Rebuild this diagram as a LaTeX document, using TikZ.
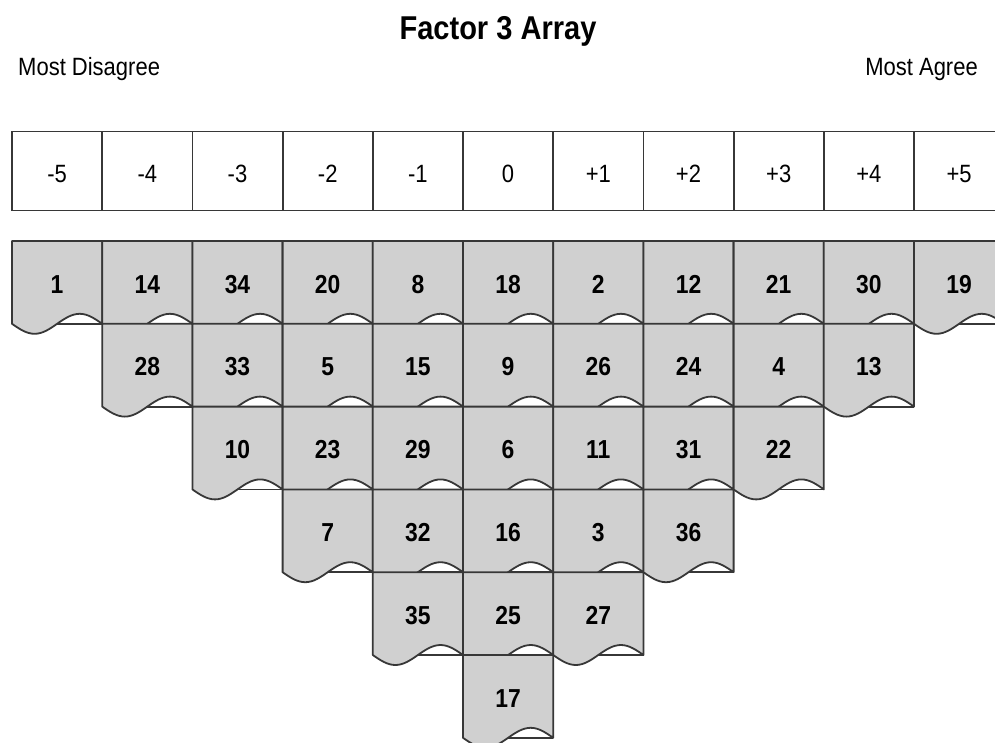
\documentclass[tikz,border=0pt]{standalone}
\usepackage{fontspec}
\setmainfont{Liberation Sans}[FakeStretch=0.88]
\usetikzlibrary{positioning}
\definecolor{cardgray}{RGB}{208,208,208}
\definecolor{edgegray}{RGB}{55,55,55}

\tikzset{
  colhead/.style={rectangle, draw=edgegray, line width=1.8pt, minimum width=90.2pt, minimum height=79pt, inner sep=0pt},
  headnum/.style={anchor=base, inner sep=0pt, font=\fontsize{25}{28}\selectfont},
  cardnum/.style={anchor=base, inner sep=0pt, font=\bfseries\fontsize{26}{28}\selectfont},
  cardbody/.style={fill=cardgray, draw=edgegray, line width=1.8pt, line join=round},
}

% one sorted card: column, row, statement number
\newcommand{\qcard}[3]{%
  \pgfmathsetmacro{\cx}{12+90.2*#1}
  \pgfmathsetmacro{\cy}{241+82.8*#2}
  \draw[cardbody] (\cx,\cy) -- ++(90.2,0) -- ++(0,82.8)
    sin ++(-22.5,-10) cos ++(-22.6,10) sin ++(-22.5,10) cos ++(-22.6,-10) -- cycle;
  \draw[edgegray, line width=1.8pt] (\cx+45.1,\cy+82.8) -- ++(45.1,0);
  \node[cardnum] (s#3) at (\cx+45.1,\cy+52) {#3};
}

\begin{document}
\begin{tikzpicture}[x=1pt, y=-1pt]
  \useasboundingbox (0,0) rectangle (995,742);
  \clip (0,0) rectangle (995,742);
  \node[font=\bfseries\fontsize{33}{36}\selectfont, anchor=base, inner sep=0pt] (title) at (498,39) {Factor 3 Array};
  \node[font=\fontsize{25}{28}\selectfont, anchor=base west, inner sep=0pt] (disagree) at (18,75) {Most Disagree};
  \node[font=\fontsize{25}{28}\selectfont, anchor=base east, inner sep=0pt] (agree) at (978,75) {Most Agree};
  % score scale
  \foreach \v [count=\i from 0] in {-5,-4,-3,-2,-1,0,+1,+2,+3,+4,+5} {
    \node[colhead] (h\i) at ({57.1+90.2*\i},171) {};
    \node[headnum] (v\i) at ({57.1+90.2*\i},182) {\v};
  }
  % cards, column by column
  \foreach \col/\stack in {0/{1}, 1/{14,28}, 2/{34,33,10}, 3/{20,5,23,7}, 4/{8,15,29,32,35},
      5/{18,9,6,16,25,17}, 6/{2,26,11,3,27}, 7/{12,24,31,36}, 8/{21,4,22}, 9/{30,13}, 10/{19}}
    \foreach \st [count=\r from 0] in \stack
      \qcard{\col}{\r}{\st};
\end{tikzpicture}
\end{document}
